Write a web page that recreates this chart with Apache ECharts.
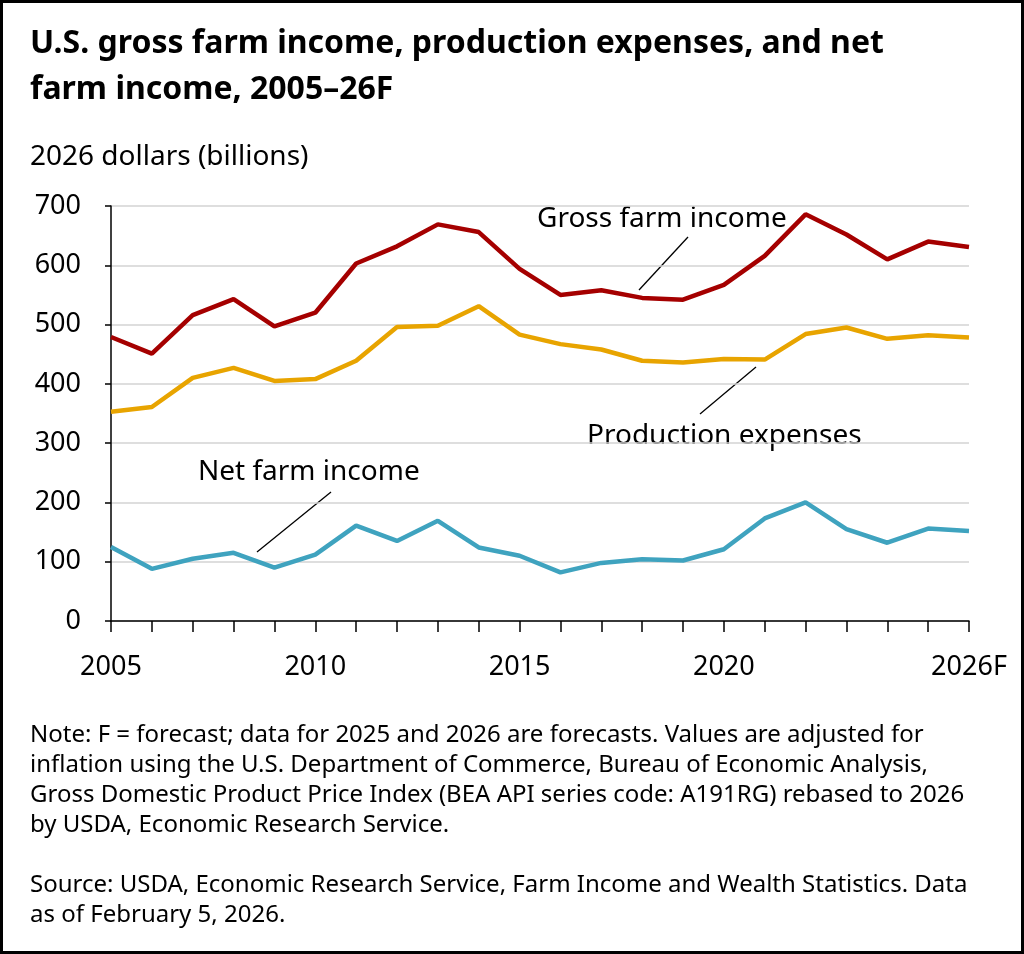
<!DOCTYPE html>
<html>
<head>
<meta charset="utf-8">
<script src="https://cdn.jsdelivr.net/npm/echarts@6/dist/echarts.min.js"></script>
<style>
  html, body { margin: 0; padding: 0; background: #fff; }
  #chart { width: 1024px; height: 954px; }
</style>
</head>
<body>
<div id="chart"></div>
<script>
// 年份
var years = ['2005', '2006', '2007', '2008', '2009', '2010', '2011', '2012', '2013', '2014', '2015',
    '2016', '2017', '2018', '2019', '2020', '2021', '2022', '2023', '2024', '2025', '2026F'];
// 总农场收入
var grossIncome = [479, 451, 516, 543, 497, 520, 603, 632, 669, 656, 594,
    550, 558, 545, 542, 567, 616, 686, 652, 610, 640, 631];
// 生产费用
var prodExpenses = [353, 361, 410, 427, 405, 408, 439, 496, 498, 531, 483,
    467, 458, 439, 436, 442, 441, 484, 495, 476, 482, 478];
// 净农场收入
var netIncome = [125, 88, 105, 115, 90, 112, 161, 135, 169, 124, 110,
    82, 98, 104, 102, 121, 173, 200, 155, 132, 156, 152];

var noteLines = [
    'Note: F = forecast; data for 2025 and 2026 are forecasts. Values are adjusted for',
    'inflation using the U.S. Department of Commerce, Bureau of Economic Analysis,',
    'Gross Domestic Product Price Index (BEA API series code: A191RG) rebased to 2026',
    'by USDA, Economic Research Service.'
];
var sourceLines = [
    'Source: USDA, Economic Research Service, Farm Income and Wealth Statistics. Data',
    'as of February 5, 2026.'
];

var FONT = '"Noto Sans", Lato, sans-serif';

var chart = echarts.init(document.getElementById('chart'));

function txt(x, y, s, size, weight) {
    return {
        type: 'text',
        x: x,
        y: y,
        style: {
            text: s,
            fontFamily: FONT,
            fontSize: size,
            fontWeight: weight || 'normal',
            fill: '#000',
            verticalAlign: 'middle'
        }
    };
}

function leader(x1, y1, x2, y2) {
    return {
        type: 'line',
        shape: { x1: x1, y1: y1, x2: x2, y2: y2 },
        style: { stroke: '#000', lineWidth: 1.3 }
    };
}

var graphics = [
    {
        type: 'rect',
        shape: { x: 1.5, y: 1.5, width: 1021, height: 951 },
        style: { fill: 'none', stroke: '#000', lineWidth: 3 }
    },
    txt(30, 44, 'U.S. gross farm income, production expenses, and net', 32, 'bold'),
    txt(30, 90, 'farm income, 2005\u201326F', 32, 'bold'),
    txt(30, 157, '2026 dollars (billions)', 28),
    txt(537, 219, 'Gross farm income', 28),
    txt(587, 436, 'Production expenses', 28),
    txt(198, 472, 'Net farm income', 28),
    leader(688, 237, 639, 290),
    leader(756, 367, 700, 414),
    leader(331, 492, 257, 552)
];
noteLines.forEach(function (s, i) {
    graphics.push(txt(30, 735 + i * 30, s, 24));
});
sourceLines.forEach(function (s, i) {
    graphics.push(txt(30, 885 + i * 30, s, 24));
});

var option = {
    animation: false,
    backgroundColor: '#fff',
    grid: {
        left: 111,
        right: 55,
        top: 206,
        bottom: 333,
        containLabel: false
    },
    xAxis: {
        type: 'category',
        boundaryGap: false,
        data: years,
        axisLine: { lineStyle: { color: '#000', width: 1.5 } },
        axisTick: {
            interval: 0,
            length: 11,
            lineStyle: { color: '#000', width: 1.5 }
        },
        axisLabel: {
            interval: function (idx) {
                return (idx % 5 === 0 && idx <= 15) || idx === years.length - 1;
            },
            margin: 33,
            fontFamily: FONT,
            fontSize: 27,
            color: '#000'
        },
        splitLine: { show: false }
    },
    yAxis: {
        type: 'value',
        min: 0,
        max: 700,
        interval: 100,
        axisLine: { show: true, lineStyle: { color: '#000', width: 1.5 } },
        axisTick: { show: true, length: 6, lineStyle: { color: '#000', width: 1.5 } },
        axisLabel: {
            margin: 30,
            fontFamily: FONT,
            fontSize: 27,
            color: '#000'
        },
        splitLine: { lineStyle: { color: '#d3d3d3', width: 1.5 } }
    },
    series: [
        {
            name: 'Gross farm income',
            type: 'line',
            data: grossIncome,
            showSymbol: false,
            lineStyle: { color: '#a50000', width: 4.5 },
            itemStyle: { color: '#a50000' }
        },
        {
            name: 'Production expenses',
            type: 'line',
            data: prodExpenses,
            showSymbol: false,
            lineStyle: { color: '#e8a400', width: 4.5 },
            itemStyle: { color: '#e8a400' }
        },
        {
            name: 'Net farm income',
            type: 'line',
            data: netIncome,
            showSymbol: false,
            lineStyle: { color: '#3fa3bf', width: 4.5 },
            itemStyle: { color: '#3fa3bf' }
        }
    ],
    graphic: graphics
};

chart.setOption(option);
</script>
</body>
</html>
